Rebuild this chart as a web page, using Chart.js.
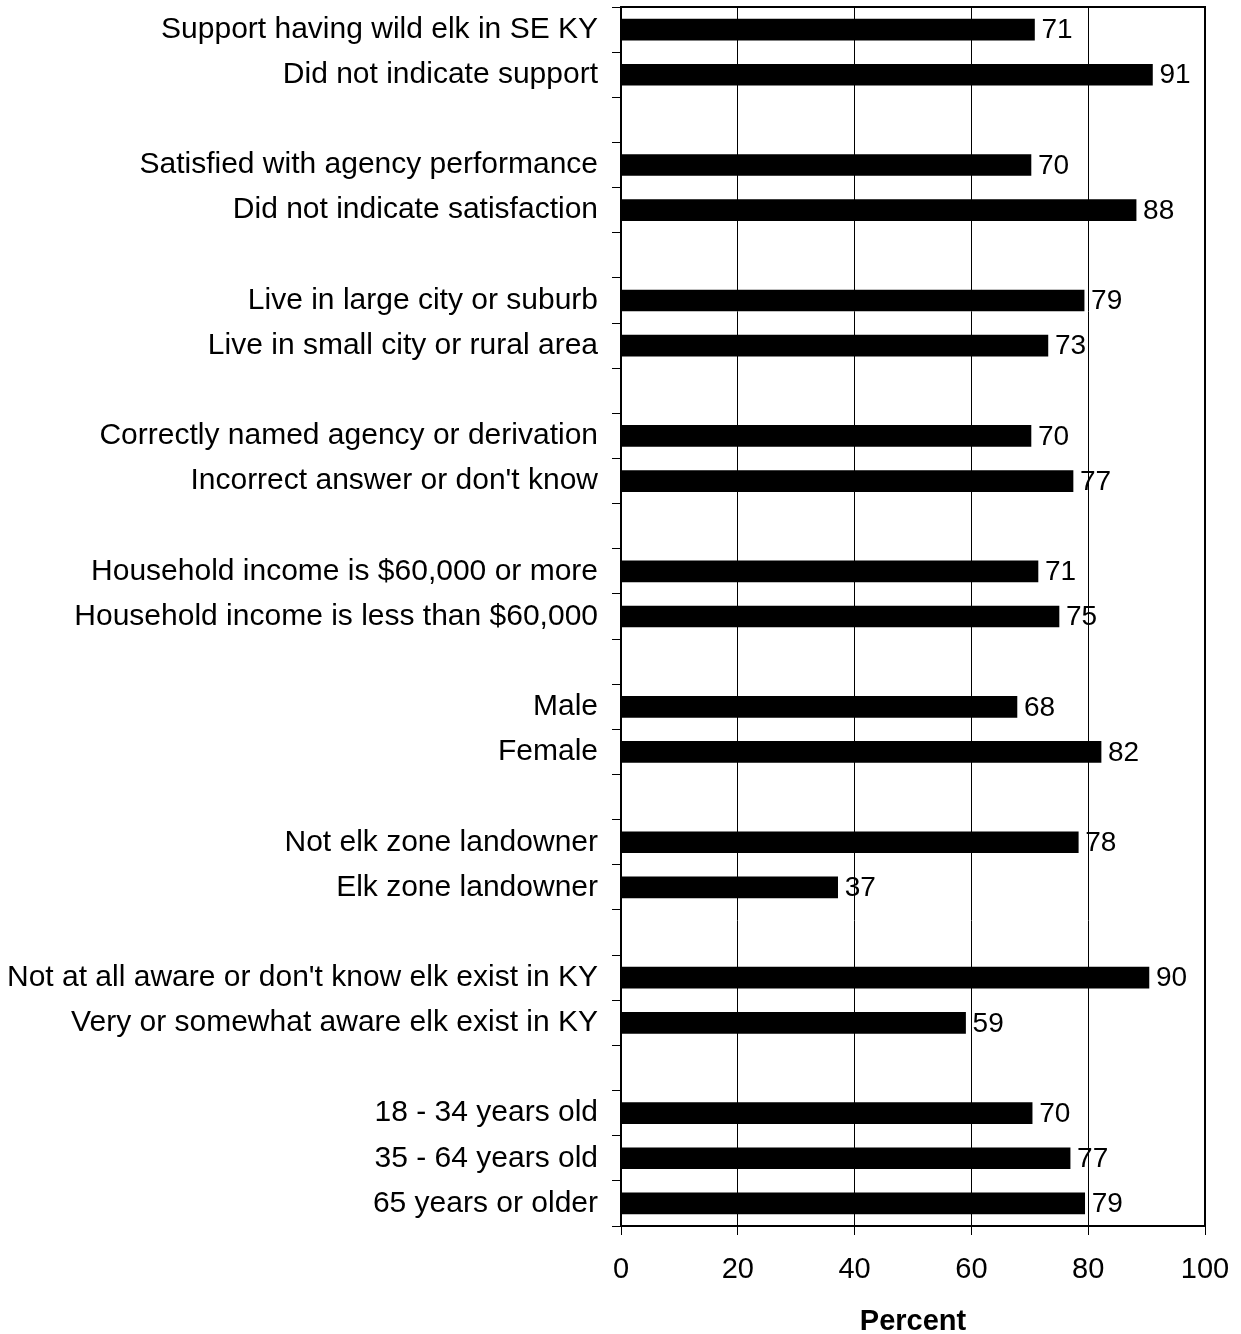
<!DOCTYPE html>
<html>
<head>
<meta charset="utf-8">
<script src="https://cdn.jsdelivr.net/npm/chart.js@4/dist/chart.umd.min.js"></script>
<style>
  html, body { margin: 0; padding: 0; background: #fff; }
  #wrap { width: 1241px; height: 1334px; position: relative; }
</style>
</head>
<body>
<div id="wrap"><canvas id="elk"></canvas></div>
<script>
// rows top to bottom, '' = gap between groups
const categories = [
  'Support having wild elk in SE KY', 'Did not indicate support', '',
  'Satisfied with agency performance', 'Did not indicate satisfaction', '',
  'Live in large city or suburb', 'Live in small city or rural area', '',
  'Correctly named agency or derivation', "Incorrect answer or don't know", '',
  'Household income is $60,000 or more', 'Household income is less than $60,000', '',
  'Male', 'Female', '',
  'Not elk zone landowner', 'Elk zone landowner', '',
  "Not at all aware or don't know elk exist in KY", 'Very or somewhat aware elk exist in KY', '',
  '18 - 34 years old', '35 - 64 years old', '65 years or older'
]
const percents = [
  70.8, 91.0, null,
  70.2, 88.2, null,
  79.3, 73.1, null,
  70.2, 77.4, null,
  71.4, 75.0, null,
  67.8, 82.2, null,
  78.3, 37.1, null,
  90.4, 59.0, null,
  70.4, 76.9, 79.4
]
const xTicks = [0, 20, 40, 60, 80, 100]

const FONT = "'Liberation Sans', Arial, sans-serif"

const valueLabels = { // draws the number next to each bar
  id: 'valueLabels',
  afterDatasetsDraw(chart) {
    const ctx = chart.ctx
    const meta = chart.getDatasetMeta(0)
    ctx.save()
    ctx.font = '28px ' + FONT
    ctx.fillStyle = '#000'
    ctx.textAlign = 'left'
    ctx.textBaseline = 'middle'
    meta.data.forEach((bar, i) => {
      const v = percents[i]
      if (v === null) return
      ctx.fillText(String(Math.round(v)), bar.x + 7, bar.y + 1)
    })
    ctx.restore()
  }
}

const frame = { // box round the plot area
  id: 'frame',
  afterDraw(chart) {
    const a = chart.chartArea
    const ctx = chart.ctx
    ctx.save()
    ctx.strokeStyle = '#000'
    ctx.lineWidth = 2
    ctx.strokeRect(a.left, a.top, a.right - a.left, a.bottom - a.top)
    ctx.restore()
  }
}

new Chart(document.getElementById('elk'), {
  type: 'bar',
  data: {
    labels: categories,
    datasets: [{
      data: percents,
      backgroundColor: '#000',
      borderWidth: 0,
      barThickness: 21
    }]
  },
  options: {
    indexAxis: 'y',
    responsive: true,
    maintainAspectRatio: false,
    animation: false,
    layout: { padding: { top: 7, right: 36, bottom: 0, left: 0 } },
    plugins: {
      legend: { display: false },
      tooltip: { enabled: false }
    },
    scales: {
      x: {
        min: 0,
        max: 100,
        afterBuildTicks(scale) {
          scale.ticks = xTicks.map(v => ({ value: v }))
        },
        afterFit(scale) {
          scale.height = 108
          scale.paddingLeft = 0
          scale.paddingRight = 0
        },
        grid: { color: '#000', lineWidth: 1, tickLength: 9, tickColor: '#000' },
        border: { color: '#000', width: 2 },
        ticks: { color: '#000', font: { family: FONT, size: 29 }, padding: 18, maxRotation: 0 },
        title: {
          display: true,
          text: 'Percent',
          color: '#000',
          font: { family: FONT, size: 29, weight: 'bold', lineHeight: 0.85 },
          padding: { top: 10, bottom: 0 }
        }
      },
      y: {
        afterFit(scale) {
          scale.width = 621
          scale.paddingTop = 0
          scale.paddingBottom = 0
        },
        grid: { drawOnChartArea: false, offset: true, tickLength: 9, color: '#000', lineWidth: 1 },
        border: { color: '#000', width: 2 },
        ticks: { color: '#000', font: { family: FONT, size: 30 }, padding: 14, autoSkip: false }
      }
    }
  },
  plugins: [valueLabels, frame]
})
</script>
</body>
</html>
